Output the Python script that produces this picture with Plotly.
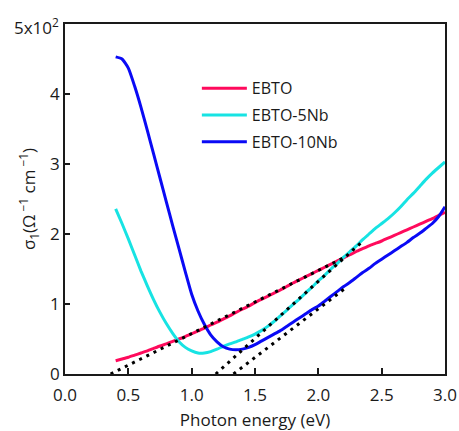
import plotly.graph_objects as go

# Photon energy grid (eV)
energy = [0.40, 0.45, 0.50, 0.55, 0.60, 0.65, 0.70, 0.75, 0.80, 0.85, 0.90, 0.95,
          1.00, 1.05, 1.10, 1.15, 1.20, 1.25, 1.30, 1.35, 1.40, 1.45, 1.50, 1.55,
          1.60, 1.65, 1.70, 1.75, 1.80, 1.85, 1.90, 1.95, 2.00, 2.05, 2.10, 2.15,
          2.20, 2.25, 2.30, 2.35, 2.40, 2.45, 2.50, 2.55, 2.60, 2.65, 2.70, 2.75,
          2.80, 2.85, 2.90, 2.95, 3.00]

# Real part of optical conductivity, sigma_1 (Ohm^-1 cm^-1)
ebto = [19, 21.5, 24, 27, 30, 33, 36.5, 40, 43, 46.5, 50, 53.5,
        57.5, 61.5, 65.5, 70, 74, 78.5, 83, 88, 92.5, 97, 102, 106.5,
        111, 115.5, 120, 125, 130, 134.5, 139, 143.5, 148, 152.5, 157, 161.5,
        166, 170.5, 175, 179, 183, 186.5, 190, 194, 198, 202, 206, 210,
        214, 218, 222, 226.5, 231]

ebto_5nb = [236, 215, 193, 170, 147, 126, 106, 88, 72, 58, 46, 38,
            33, 30, 30, 32, 35.5, 39.5, 43, 46, 49.5, 53, 57, 62,
            68, 75, 83, 91, 99.5, 107, 116, 124, 133, 141, 150, 158,
            167, 175, 183, 192, 200, 208, 215, 222, 230, 239, 249, 258,
            268, 278, 287, 295, 303]

ebto_10nb = [453, 450, 437, 411, 381, 348, 314, 280, 246, 212, 179, 146,
             114, 90, 71, 56, 46, 39, 35.5, 34.5, 35.5, 38, 42, 47,
             52, 57, 62, 68, 74, 80, 86, 92, 97, 104, 111, 118,
             125, 131, 138, 145, 151, 158, 164, 170, 176, 182, 188, 195,
             201, 208, 215, 225, 239]

# Linear extrapolations of the absorption edges (end points)
fit_ebto_x = [0.36, 2.20]
fit_ebto_y = [0, 166]
fit_5nb_x = [1.19, 2.34]
fit_5nb_y = [0, 188]
fit_10nb_x = [1.33, 2.23]
fit_10nb_y = [0, 125]

x_ticks = [0.0, 0.5, 1.0, 1.5, 2.0, 2.5, 3.0]
y_ticks = [0, 100, 200, 300, 400]
y_ticktext = ["0", "1", "2", "3", "4"]

FONT = "Open Sans"
INK = "#1a1a1a"

fig = go.Figure()

series = [
    ("EBTO", ebto, "#ff0a5c"),
    ("EBTO-5Nb", ebto_5nb, "#17e3e3"),
    ("EBTO-10Nb", ebto_10nb, "#0a0af5"),
]
for name, vals, color in series:
    fig.add_trace(go.Scatter(x=energy, y=vals, mode="lines", name=name, legendgroup=name,
                             line=dict(color=color, width=3, shape="spline", smoothing=0.5)))

for fx, fy in [(fit_ebto_x, fit_ebto_y), (fit_5nb_x, fit_5nb_y), (fit_10nb_x, fit_10nb_y)]:
    fig.add_trace(go.Scatter(x=fx, y=fy, mode="lines", showlegend=False,
                             line=dict(color="black", width=3, dash="3px,5px")))

fig.update_layout(
    width=459, height=431,
    margin=dict(l=65, r=14, t=24, b=57, autoexpand=False),
    paper_bgcolor="white", plot_bgcolor="white",
    font=dict(family=FONT, size=17, color=INK),
    showlegend=True,
    legend=dict(x=0.347, y=0.865, xanchor="left", yanchor="top",
                bgcolor="rgba(0,0,0,0)", borderwidth=0,
                font=dict(family=FONT, size=16, color=INK),
                itemwidth=45, tracegroupgap=3),
    xaxis=dict(range=[0, 3], tickvals=x_ticks, tickformat=".1f", automargin=False,
               ticks="inside", ticklen=6, tickwidth=1.8, tickcolor=INK,
               ticklabelstandoff=5,
               showline=True, linecolor=INK, linewidth=1.8, mirror=True,
               showgrid=False, zeroline=False,
               title=dict(text="Photon energy (eV)", standoff=12,
                          font=dict(family=FONT, size=17, color=INK))),
    yaxis=dict(range=[0, 500], tickvals=y_ticks, ticktext=y_ticktext, automargin=False,
               ticks="inside", ticklen=5, tickwidth=1.8, tickcolor=INK,
               showline=True, linecolor=INK, linewidth=1.8, mirror=True,
               showgrid=False, zeroline=False,
               title=dict(text="σ<sub>1</sub>(Ω<sup> −1</sup> cm<sup> −1</sup>)", standoff=10,
                          font=dict(family=FONT, size=17, color=INK))),
)

# Scale multiplier at the top of the y axis
fig.add_annotation(x=0, y=1.0, xref="paper", yref="paper",
                   text="5x10<sup>2</sup>", showarrow=False,
                   xanchor="right", yanchor="middle", xshift=-4, yshift=-2,
                   font=dict(family=FONT, size=17, color=INK))

fig.write_html("out.html")
